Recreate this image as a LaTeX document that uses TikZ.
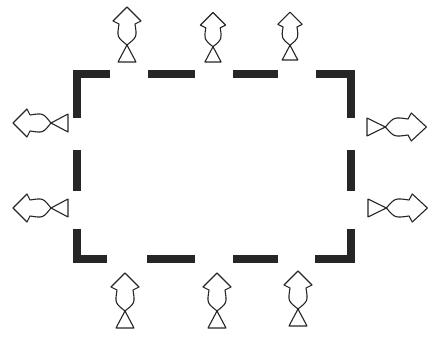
\documentclass[tikz,border=0pt]{standalone}
\begin{document}
\begin{tikzpicture}[x=1pt,y=1pt,
  wall/.style={line width=7.5pt,line cap=butt,line join=miter,color=black!85},
  fishline/.style={line width=1.1pt,line join=round,color=black!85},
  fish/.pic={\draw[fishline] (0,9) -- (17,0) .. controls (25,-10) .. (38,-8) -- (41,-14) -- (55,0) -- (41,14) -- (38,8) .. controls (25,10) .. (17,0) -- (0,-9) -- cycle;}]
\useasboundingbox (0,0) rectangle (437,-355);
% box
\draw[wall] (110,-74) -- (77,-74) -- (77,-118);
\draw[wall] (148,-74) -- (195,-74);
\draw[wall] (233,-74) -- (278,-74);
\draw[wall] (316,-74) -- (351,-74) -- (351,-118);
\draw[wall] (77,-150) -- (77,-191);
\draw[wall] (351,-150) -- (351,-191);
\draw[wall] (77,-229) -- (77,-259) -- (107,-259);
\draw[wall] (147,-259) -- (195,-259);
\draw[wall] (233,-259) -- (278,-259);
\draw[wall] (315,-259) -- (351,-259) -- (351,-229);
% top fish
\pic[rotate=90] at (127,-62) {fish};
\pic[rotate=90,scale=0.9] at (213,-62) {fish};
\pic[rotate=90,scale=0.87] at (290,-60) {fish};
% bottom fish
\pic[rotate=90] at (125,-328) {fish};
\pic[rotate=90] at (217,-328) {fish};
\pic[rotate=90] at (298,-326) {fish};
% left fish
\pic[rotate=180] at (68,-123) {fish};
\pic[rotate=180] at (68,-208) {fish};
% right fish
\pic[xscale=1.08] at (367,-127) {fish};
\pic[xscale=1.08] at (368,-208) {fish};
\end{tikzpicture}
\end{document}
